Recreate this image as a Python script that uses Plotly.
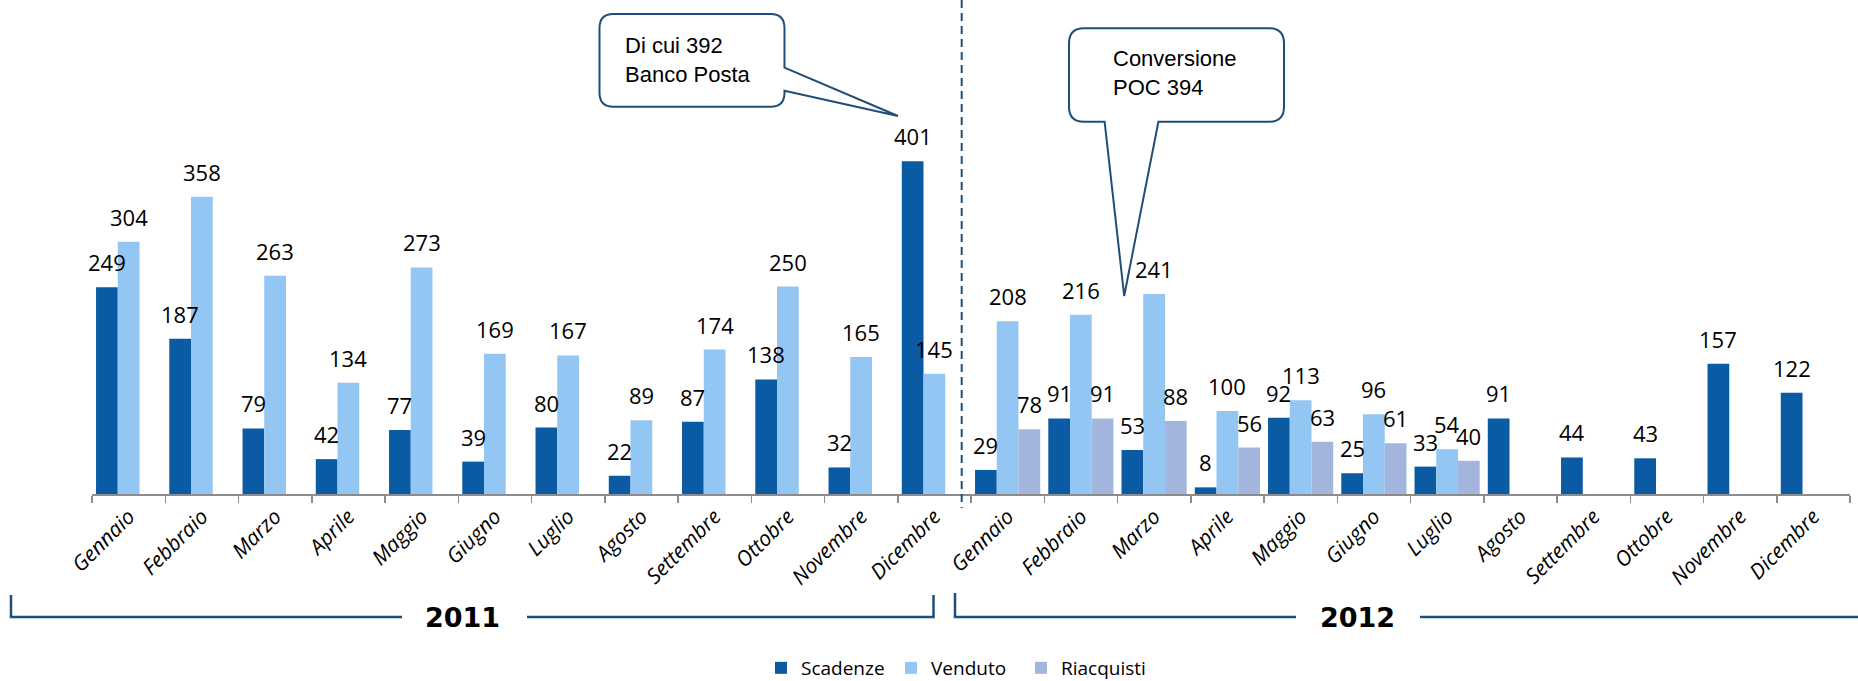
import plotly.graph_objects as go

# ---------------- data ----------------
months = ["Gennaio", "Febbraio", "Marzo", "Aprile", "Maggio", "Giugno",
          "Luglio", "Agosto", "Settembre", "Ottobre", "Novembre", "Dicembre"]
years = ["2011", "2012"]

scadenze_2011 = [249, 187, 79, 42, 77, 39, 80, 22, 87, 138, 32, 401]
venduto_2011 = [304, 358, 263, 134, 273, 169, 167, 89, 174, 250, 165, 145]
riacquisti_2011 = [None] * 12

scadenze_2012 = [29, 91, 53, 8, 92, 25, 33, 91, 44, 43, 157, 122]
venduto_2012 = [208, 216, 241, 100, 113, 96, 54, None, None, None, None, None]
riacquisti_2012 = [78, 91, 88, 56, 63, 61, 40, None, None, None, None, None]

series_names = ["Scadenze", "Venduto", "Riacquisti"]
series_colors = ["#0B5AA4", "#94C6F4", "#A3B5DD"]

callout_1_text = "Di cui 392<br>Banco Posta"
callout_2_text = "Conversione<br>POC 394"

# ---------------- layout constants ----------------
W, H = 1858, 681
ML, MR, MT, MB = 92, 8, 0, 187
PW, PH = W - ML - MR, H - MT - MB
PX_PER_UNIT = 0.830
YMAX = PH / PX_PER_UNIT
BARGAP = 0.11
N_CAT = len(months) * len(years)
BAR_W = PW / N_CAT * (1 - BARGAP) / 3

NAVY = "#1F4E79"
AXIS_GREY = "#8C8C8C"


def px(x):
    return (x - ML) / PW


def py(y):
    return (H - MB - y) / PH


cats = [f"{m} {y}" for y in years for m in months]
series_values = [
    scadenze_2011 + scadenze_2012,
    venduto_2011 + venduto_2012,
    riacquisti_2011 + riacquisti_2012,
]

fig = go.Figure()
for name, color, vals in zip(series_names, series_colors, series_values):
    fig.add_trace(go.Bar(x=cats, y=vals, name=name, marker_color=color,
                         marker_line_width=0))

annotations = []
for k, vals in enumerate(series_values):
    for c, v in zip(cats, vals):
        if v is None:
            continue
        annotations.append(dict(
            x=c, y=v, xref="x", yref="y", text=str(v), showarrow=False,
            xanchor="center", yanchor="bottom",
            xshift=(k - 1) * BAR_W, yshift=8,
            font=dict(family="Open Sans", size=22, color="black")))

# year labels
for label, cx in zip(years, [462, 1357]):
    annotations.append(dict(x=px(cx), y=py(617), xref="paper", yref="paper",
                            text=f"<b>{label}</b>", showarrow=False,
                            xanchor="center", yanchor="middle",
                            font=dict(family="DejaVu Sans", size=27, color="black")))

# callout texts
annotations.append(dict(x=px(623), y=py(31), xref="paper", yref="paper",
                        text=callout_1_text, showarrow=False, align="left",
                        xanchor="left", yanchor="top",
                        font=dict(family="Liberation Sans", size=22, color="black")))
annotations.append(dict(x=px(1111), y=py(44), xref="paper", yref="paper",
                        text=callout_2_text, showarrow=False, align="left",
                        xanchor="left", yanchor="top",
                        font=dict(family="Liberation Sans", size=22, color="black")))


def P(x, y):
    return f"{px(x):.5f},{py(y):.5f}"


def callout_right_tail(x0, y0, x1, y1, r, ta, tip, tb):
    return (f"M{P(x0 + r, y0)} L{P(x1 - r, y0)} Q{P(x1, y0)} {P(x1, y0 + r)} "
            f"L{P(x1, ta)} L{P(*tip)} L{P(x1, tb)} "
            f"L{P(x1, y1 - r)} Q{P(x1, y1)} {P(x1 - r, y1)} "
            f"L{P(x0 + r, y1)} Q{P(x0, y1)} {P(x0, y1 - r)} "
            f"L{P(x0, y0 + r)} Q{P(x0, y0)} {P(x0 + r, y0)} Z")


def callout_bottom_tail(x0, y0, x1, y1, r, ta, tip, tb):
    return (f"M{P(x0 + r, y0)} L{P(x1 - r, y0)} Q{P(x1, y0)} {P(x1, y0 + r)} "
            f"L{P(x1, y1 - r)} Q{P(x1, y1)} {P(x1 - r, y1)} "
            f"L{P(tb, y1)} L{P(*tip)} L{P(ta, y1)} "
            f"L{P(x0 + r, y1)} Q{P(x0, y1)} {P(x0, y1 - r)} "
            f"L{P(x0, y0 + r)} Q{P(x0, y0)} {P(x0 + r, y0)} Z")


shapes = [
    # separator
    dict(type="line", xref="paper", yref="paper", x0=px(961.7), x1=px(961.7),
         y0=py(0), y1=py(508), line=dict(color=NAVY, width=2, dash="8px,5px")),
    # 2011 bracket
    dict(type="path", xref="paper", yref="paper",
         path=f"M{P(11, 595)} L{P(11, 617)} L{P(402, 617)} M{P(527, 617)} "
              f"L{P(933.5, 617)} L{P(933.5, 595)}",
         line=dict(color=NAVY, width=2.5)),
    # 2012 bracket
    dict(type="path", xref="paper", yref="paper",
         path=f"M{P(955, 593)} L{P(955, 617)} L{P(1296, 617)} M{P(1420, 617)} "
              f"L{P(1862, 617)}",
         line=dict(color=NAVY, width=2.5)),
    # callouts
    dict(type="path", xref="paper", yref="paper", layer="above",
         path=callout_right_tail(599.5, 14, 784.5, 106.7, 14, 67.7, (898, 116), 90.7),
         fillcolor="white", line=dict(color=NAVY, width=2)),
    dict(type="path", xref="paper", yref="paper", layer="above",
         path=callout_bottom_tail(1069, 28.3, 1284, 121.7, 15, 1104.6, (1124.2, 296), 1158.4),
         fillcolor="white", line=dict(color=NAVY, width=2)),
]

fig.update_layout(
    width=W, height=H,
    margin=dict(l=ML, r=MR, t=MT, b=MB, autoexpand=False),
    paper_bgcolor="white", plot_bgcolor="white",
    barmode="group", bargap=BARGAP, bargroupgap=0,
    showlegend=True,
    legend=dict(orientation="h", x=px(761), xanchor="left",
                y=py(668), yanchor="middle",
                font=dict(family="Open Sans", size=19, color="black"),
                entrywidth=85, bgcolor="rgba(0,0,0,0)", traceorder="normal"),
    xaxis=dict(type="category", categoryorder="array", categoryarray=cats,
               tickmode="array", tickvals=cats, ticktext=months * len(years),
               tickangle=-45, tickson="boundaries",
               tickfont=dict(family="Open Sans", size=21, color="black", style="italic"),
               showline=True, linecolor=AXIS_GREY, linewidth=2,
               ticks="outside", ticklen=7, tickcolor=AXIS_GREY, tickwidth=1.5,
               ticklabelstandoff=0,
               showgrid=False, zeroline=False, range=[-0.5, N_CAT - 0.5],
               fixedrange=True),
    yaxis=dict(range=[0, YMAX], visible=False, showgrid=False, zeroline=False,
               fixedrange=True),
    annotations=annotations,
    shapes=shapes,
)

fig.write_html("out.html",
               config={"displayModeBar": False, "staticPlot": True},
               post_script="document.body.style.margin='0';"
                           "document.body.style.overflow='hidden';")
